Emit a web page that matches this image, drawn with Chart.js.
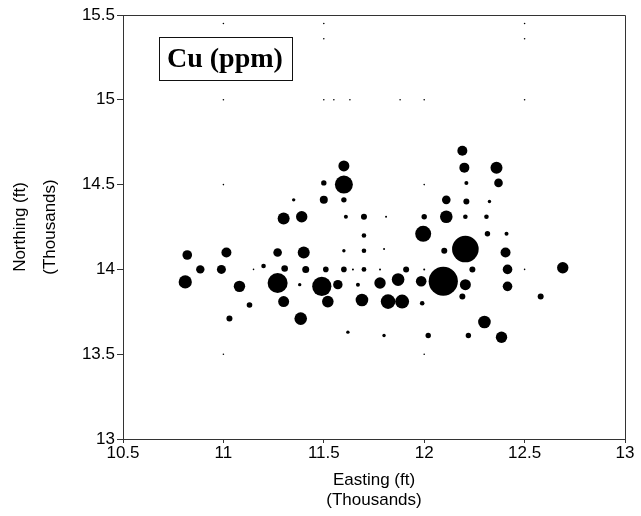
<!DOCTYPE html>
<html>
<head>
<meta charset="utf-8">
<script src="https://cdn.jsdelivr.net/npm/chart.js@4.4.1/dist/chart.umd.min.js"></script>
<style>
  html, body { margin: 0; padding: 0; background: #fff; }
  #wrap { width: 641px; height: 516px; position: relative; }
</style>
</head>
<body>
<div id="wrap"><canvas id="c" width="641" height="516"></canvas></div>
<script>
// Easting (thousands ft), Northing (thousands ft), marker radius (proportional to Cu ppm)
const eastings = [
  11.0, 11.5, 11.5, 12.5, 12.5,
  11.0, 11.5, 11.55, 11.63, 11.88, 12.0, 12.5,
  12.19,
  11.6, 12.2, 12.36,
  11.0, 11.5, 11.6, 12.0, 12.21, 12.37,
  11.35, 11.5, 11.6, 12.11, 12.21, 12.325,
  11.30, 11.39, 11.61, 11.70, 11.81, 12.0, 12.11, 12.205, 12.31,
  11.70, 11.995, 12.315, 12.41,
  10.82, 11.015, 11.27, 11.40, 11.60, 11.70, 11.80, 12.10, 12.205, 12.405,
  10.885, 10.99, 11.15, 11.20, 11.305, 11.41, 11.51, 11.60, 11.645, 11.70, 11.78, 11.91, 12.0, 12.24, 12.415, 12.50, 12.69,
  10.81, 11.08, 11.27, 11.38, 11.49, 11.57, 11.67, 11.78, 11.87, 11.985, 12.095, 12.205, 12.415,
  11.13, 11.30, 11.52, 11.69, 11.82, 11.89, 11.99, 12.19, 12.58,
  11.03, 11.385, 12.30,
  11.62, 11.80, 12.02, 12.22, 12.385,
  11.0, 12.0
];
const northings = [
  15.45, 15.45, 15.36, 15.45, 15.36,
  15.0, 15.0, 15.0, 15.0, 15.0, 15.0, 15.0,
  14.70,
  14.61, 14.60, 14.60,
  14.50, 14.51, 14.50, 14.50, 14.51, 14.51,
  14.41, 14.41, 14.41, 14.41, 14.40, 14.40,
  14.30, 14.31, 14.31, 14.31, 14.31, 14.31, 14.31, 14.31, 14.31,
  14.20, 14.21, 14.21, 14.21,
  14.085, 14.10, 14.10, 14.10, 14.11, 14.11, 14.12, 14.11, 14.12, 14.10,
  14.0, 14.0, 14.0, 14.02, 14.005, 14.0, 14.0, 14.0, 14.0, 14.0, 14.0, 14.0, 14.0, 14.0, 14.0, 14.0, 14.01,
  13.926, 13.90, 13.92, 13.91, 13.90, 13.91, 13.91, 13.92, 13.94, 13.93, 13.93, 13.91, 13.90,
  13.79, 13.81, 13.81, 13.82, 13.81, 13.81, 13.80, 13.84, 13.84,
  13.71, 13.71, 13.69,
  13.63, 13.61, 13.61, 13.61, 13.60,
  13.50, 13.50
];
const sizes = [
  0.8, 0.8, 0.8, 0.8, 0.8,
  0.8, 0.8, 0.8, 0.8, 0.8, 0.8, 0.8,
  5,
  5.5, 5, 6,
  0.8, 2.7, 9, 0.8, 2, 4.3,
  1.7, 4, 2.7, 4.3, 3, 1.7,
  6, 5.7, 2, 3, 1, 2.7, 6.3, 2.3, 2.3,
  2.3, 8, 2.7, 2,
  4.8, 5, 4.3, 6, 1.7, 2.3, 1, 3, 13.3, 5,
  4.2, 4.5, 0.8, 2.3, 3.3, 3.5, 2.8, 2.8, 1, 2.4, 1, 3, 1, 3, 4.8, 0.8, 5.7,
  6.6, 5.7, 10, 1.7, 9.6, 4.7, 2, 5.7, 6.3, 5.3, 14.6, 5.5, 4.8,
  2.8, 5.5, 5.8, 6.3, 7.3, 7, 2.3, 3, 3,
  3, 6.3, 6.3,
  1.7, 1.7, 2.7, 2.7, 5.7,
  0.8, 0.8
];
const xTicksMin = 10.5, xTicksMax = 13, yTicksMin = 13, yTicksMax = 15.5, tickStep = 0.5;
const xTitle = ['Easting (ft)', '(Thousands)'];
const yTitle = ['Northing (ft)', '(Thousands)'];
const boxLabel = 'Cu (ppm)';

const points = eastings.map((e, i) => ({ x: e, y: northings[i], r: sizes[i] }));
const fmt = v => String(Number(v.toFixed(2)));

const framePlugin = {
  id: 'frame',
  afterDraw(chart) {
    const { ctx, chartArea: a } = chart;
    ctx.save();
    ctx.strokeStyle = '#333';
    ctx.lineWidth = 1;
    ctx.beginPath();
    ctx.moveTo(a.left, a.top + 0.5);
    ctx.lineTo(a.right + 0.5, a.top + 0.5);
    ctx.lineTo(a.right + 0.5, a.bottom);
    ctx.stroke();
    // label box
    const bx = 159.5, by = 37.5, bw = 133, bh = 43;
    ctx.fillStyle = '#fff';
    ctx.fillRect(bx, by, bw, bh);
    ctx.strokeStyle = '#111';
    ctx.strokeRect(bx, by, bw, bh);
    ctx.fillStyle = '#000';
    ctx.font = 'bold 28px "Liberation Serif", "Times New Roman", serif';
    ctx.textBaseline = 'alphabetic';
    ctx.textAlign = 'left';
    ctx.fillText(boxLabel, 167, 67);
    ctx.restore();
  }
};

const tickFont = { family: '"Liberation Sans", Arial, Helvetica, sans-serif', size: 17 };

new Chart(document.getElementById('c'), {
  type: 'bubble',
  data: {
    datasets: [{
      data: points,
      backgroundColor: '#000',
      borderColor: '#000',
      borderWidth: 0,
      hoverRadius: 0
    }]
  },
  options: {
    responsive: false,
    animation: false,
    events: [],
    layout: { padding: { top: 15, right: 16, left: 0, bottom: 0 } },
    plugins: { legend: { display: false }, tooltip: { enabled: false } },
    scales: {
      x: {
        type: 'linear',
        min: xTicksMin, max: xTicksMax,
        ticks: { stepSize: tickStep, color: '#000', font: tickFont, padding: 0, maxRotation: 0, callback: fmt },
        grid: { display: true, drawOnChartArea: false, drawTicks: true, tickLength: 4, color: '#333' },
        border: { display: true, color: '#333' },
        title: { display: true, text: xTitle, color: '#000', font: { family: tickFont.family, size: 17, lineHeight: 1.18 }, padding: { top: 0, bottom: 6 } },
        afterFit(s) { s.height = 77; }
      },
      y: {
        type: 'linear',
        min: yTicksMin, max: yTicksMax,
        ticks: { stepSize: tickStep, color: '#000', font: tickFont, padding: 2, callback: fmt },
        grid: { display: true, drawOnChartArea: false, drawTicks: true, tickLength: 6, color: '#333' },
        border: { display: true, color: '#333' },
        title: { display: true, text: yTitle, color: '#000', font: { family: tickFont.family, size: 17, lineHeight: 1.765 }, padding: { top: 5, bottom: 0 } },
        afterFit(s) { s.width = 123; }
      }
    }
  },
  plugins: [framePlugin]
});
</script>
</body>
</html>
